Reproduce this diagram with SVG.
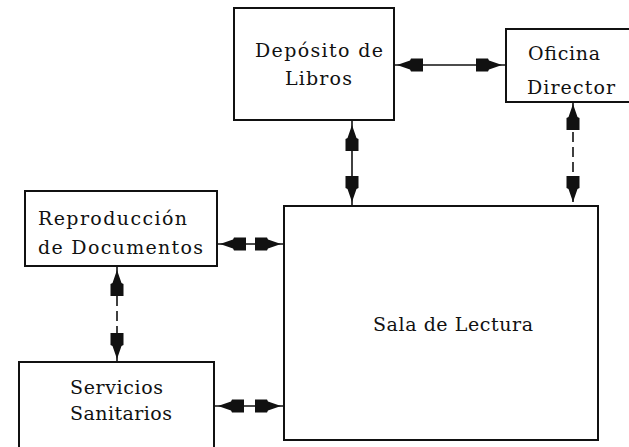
<svg xmlns="http://www.w3.org/2000/svg" xmlns:xlink="http://www.w3.org/1999/xlink" width="629" height="447" viewBox="0 0 629 447">
<style>
.box{fill:#fff;stroke:#111;stroke-width:2}
.lbl{font-family:"DejaVu Serif","Liberation Serif",serif;font-size:19px;fill:#111}
.ln{stroke:#111;stroke-width:1.6;fill:none}
.dash{stroke-dasharray:10 5}
.ah{fill:#111}
</style>
<defs>
<path id="ah" class="ah" d="M0,0 L-13,-4.5 L-14,-6.5 L-26,-6.5 L-26,6.5 L-14,6.5 L-13,4.5 Z"/>
</defs>
<rect x="0" y="0" width="629" height="447" fill="#fff"/>
<g id="connectors">
<line class="ln" x1="394" y1="65" x2="506" y2="65"/>
<use xlink:href="#ah" transform="translate(397,65) rotate(180)"/>
<use xlink:href="#ah" transform="translate(502,65)"/>
<line class="ln" x1="352" y1="120" x2="352" y2="206"/>
<use xlink:href="#ah" transform="translate(352,125) rotate(-90)"/>
<use xlink:href="#ah" transform="translate(352,202) rotate(90)"/>
<line class="ln dash" x1="573" y1="102" x2="573" y2="206"/>
<use xlink:href="#ah" transform="translate(573,104) rotate(-90)"/>
<use xlink:href="#ah" transform="translate(573,202) rotate(90)"/>
<line class="ln" x1="217" y1="244" x2="284" y2="244"/>
<use xlink:href="#ah" transform="translate(220,244) rotate(180)"/>
<use xlink:href="#ah" transform="translate(281,244)"/>
<line class="ln dash" x1="117" y1="266" x2="117" y2="362"/>
<use xlink:href="#ah" transform="translate(117,270) rotate(-90)"/>
<use xlink:href="#ah" transform="translate(117,359) rotate(90)"/>
<line class="ln" x1="214" y1="406" x2="284" y2="406"/>
<use xlink:href="#ah" transform="translate(218,406) rotate(180)"/>
<use xlink:href="#ah" transform="translate(281,406)"/>
</g>
<g id="deposito">
<rect class="box" x="234" y="8" width="160" height="112"/>
<text class="lbl" x="255" y="57" textLength="128" lengthAdjust="spacing">Depósito de</text>
<text class="lbl" x="285" y="85" textLength="67" lengthAdjust="spacing">Libros</text>
</g>
<g id="oficina">
<rect class="box" x="506" y="29" width="130" height="73"/>
<text class="lbl" x="528" y="60" textLength="72" lengthAdjust="spacing">Oficina</text>
<text class="lbl" x="527" y="94" textLength="88" lengthAdjust="spacing">Director</text>
</g>
<g id="reproduccion">
<rect class="box" x="25" y="191" width="192" height="75"/>
<text class="lbl" x="38" y="225" textLength="149" lengthAdjust="spacing">Reproducción</text>
<text class="lbl" x="38" y="254" textLength="165" lengthAdjust="spacing">de Documentos</text>
</g>
<g id="servicios">
<rect class="box" x="19" y="362" width="195" height="95"/>
<text class="lbl" x="70" y="394" textLength="93" lengthAdjust="spacing">Servicios</text>
<text class="lbl" x="70" y="420" textLength="102" lengthAdjust="spacing">Sanitarios</text>
</g>
<g id="sala">
<rect class="box" x="284" y="206" width="314" height="234"/>
<text class="lbl" x="373" y="331" textLength="160" lengthAdjust="spacing">Sala de Lectura</text>
</g>
</svg>
